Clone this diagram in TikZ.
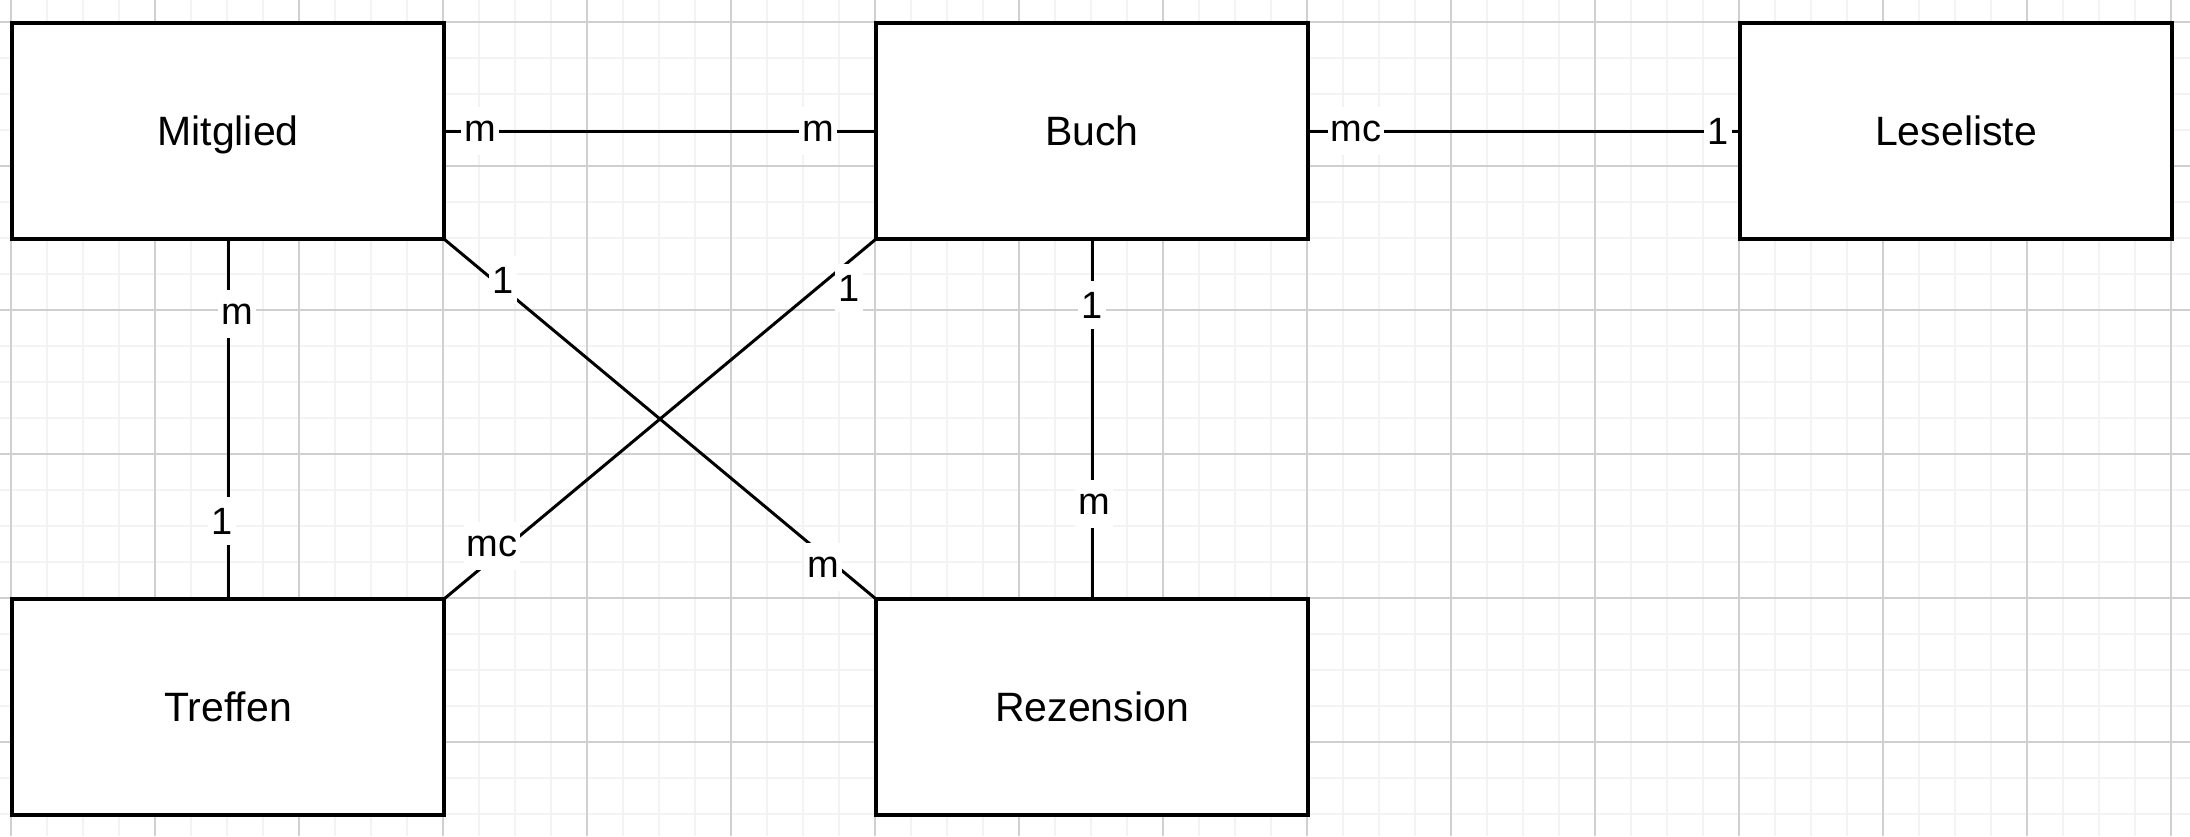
\documentclass[tikz,border=0pt]{standalone}
\usepackage{fontspec}
\setmainfont{Liberation Sans}
\definecolor{gridminor}{RGB}{243,243,243}
\definecolor{gridmajor}{RGB}{208,208,208}
\begin{document}
\begin{tikzpicture}[x=0.5pt,y=-0.5pt,
  entity/.style={draw=black, fill=white, line width=2pt, minimum width=216pt, minimum height=108pt, inner sep=0pt, outer sep=0pt, text height=14.7pt, text depth=0pt, font=\fontsize{20.5}{24}\selectfont},
  rel/.style={draw=black, line width=1.5pt},
  card/.style={fill=white, inner xsep=1.5pt, inner ysep=0pt, minimum height=24pt, font=\fontsize{19}{23}\selectfont},
  gmin/.style={draw=gridminor, line width=1pt},
  gmaj/.style={draw=gridmajor, line width=0.8pt}]
\useasboundingbox (0,0) rectangle (2190,836);
\fill[white] (0,0) rectangle (2190,836);
% grid
\foreach \i in {0,...,60} { \draw[gmin] ({11+36*\i},0) -- ({11+36*\i},836); }
\foreach \j in {0,...,22} { \draw[gmin] (0,{22+36*\j}) -- (2190,{22+36*\j}); }
\foreach \i in {0,...,15} { \draw[gmaj] ({11+144*\i},0) -- ({11+144*\i},836); }
\foreach \j in {0,...,5} { \draw[gmaj] (0,{22+144*\j}) -- (2190,{22+144*\j}); }
% entities
\node[entity] (mitglied) at (228,131) {Mitglied};
\node[entity] (buch) at (1092,131) {Buch};
\node[entity] (leseliste) at (1956,131) {Leseliste};
\node[entity] (treffen) at (228,707) {Treffen};
\node[entity] (rezension) at (1092,707) {Rezension};
% relations
\draw[rel] (mitglied) -- (buch);
\draw[rel] (buch) -- (leseliste);
\draw[rel] (mitglied) -- (treffen);
\draw[rel] (buch) -- (rezension);
\draw[rel] (mitglied.south east) -- (rezension.north west);
\draw[rel] (buch.south west) -- (treffen.north east);
% cardinalities
\node[card] (c1) at (480,131) {m};
\node[card] (c2) at (818,131) {m};
\node[card] (c3) at (1356,131) {mc};
\node[card] (c4) at (1718,131) {1};
\node[card] (c5) at (237,314) {m};
\node[card] (c6) at (222,521) {1};
\node[card] (c7) at (1092,305) {1};
\node[card] (c8) at (1094,504) {m};
\node[card] (c9) at (503,280) {1};
\node[card] (c10) at (823,567) {m};
\node[card] (c11) at (849,288) {1};
\node[card] (c12) at (492,546) {mc};
\end{tikzpicture}
\end{document}
